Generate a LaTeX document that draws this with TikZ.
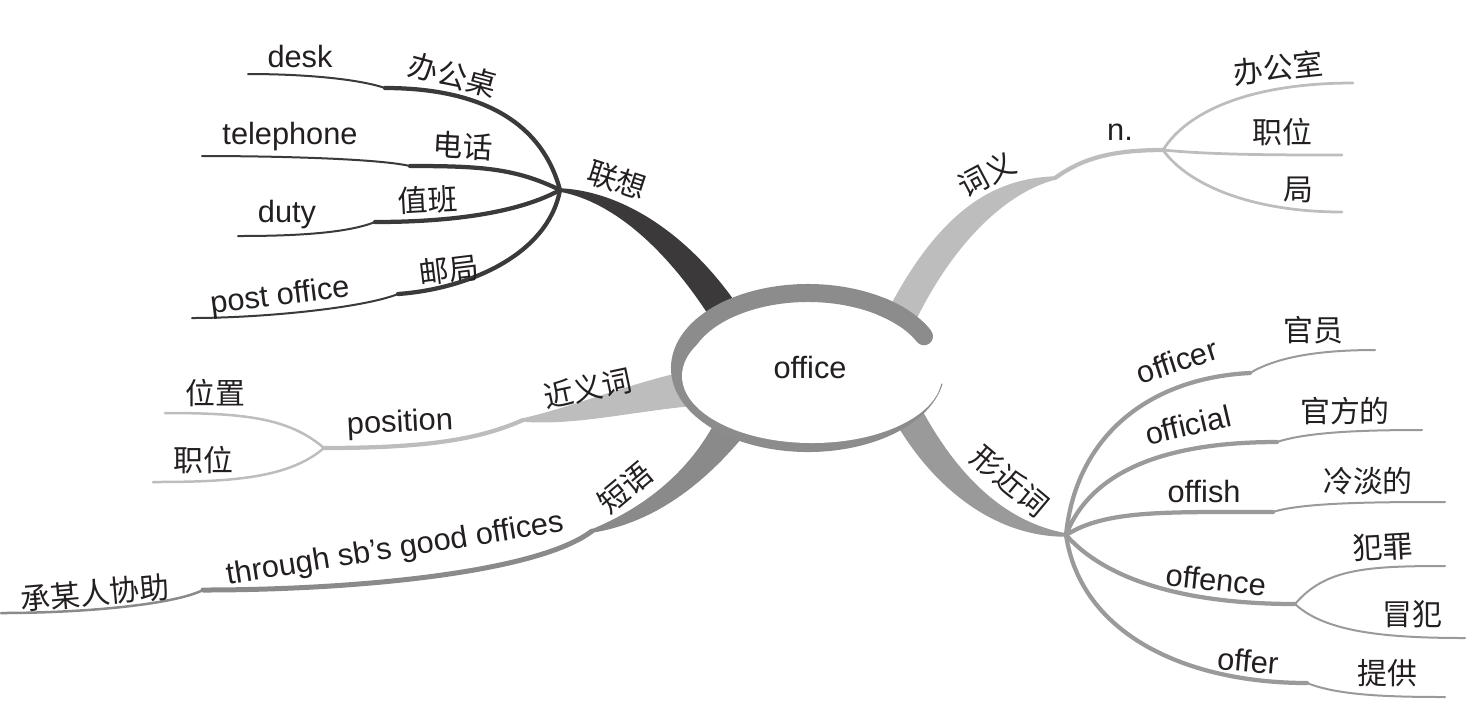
\documentclass[tikz,border=0pt]{standalone}
\usepackage{fontspec}
\setmainfont{Liberation Sans}
\newfontfamily\cjk{Noto Sans CJK SC}
\usetikzlibrary{calc}
\definecolor{mmink}{HTML}{231F20}
\definecolor{mmdark}{HTML}{3B393A}
\definecolor{mmlight}{HTML}{BDBDBD}
\definecolor{mmmid}{HTML}{8A8A8A}
\definecolor{mmsoft}{HTML}{9A9A9A}
\definecolor{mmring}{HTML}{8C8C8C}
\tikzset{
  mm text/.style={font=\fontsize{17.5}{20}\selectfont, text=mmink, inner sep=0pt},
  mm cn/.style={mm text, font=\cjk\fontsize{17}{20}\selectfont},
  mm trunk/.style={fill=#1, draw=#1, line width=0.7mm, line join=round},
  mm stem/.style={draw=#1, line width=0.85mm, line cap=round},
  mm leaf/.style={draw=#1, line width=0.4mm, line cap=round},
  mm ring/.style={draw=mmring, line width=3.6mm}
}
\begin{document}
\begin{tikzpicture}[x=0.2mm, y=-0.2mm]
  \useasboundingbox (0,0) rectangle (1466,709);

  \coordinate (lx) at (560,190);
  \coordinate (lx-a) at (745,320);
  \coordinate (lx-b) at (715,322);
  \coordinate (bgz-k) at (385,88);
  \coordinate (desk-e) at (248,74);
  \coordinate (dh-k) at (410,166);
  \coordinate (tel-e) at (202,156);
  \coordinate (zb-k) at (375,222);
  \coordinate (duty-e) at (238,236);
  \coordinate (yj-k) at (398,294);
  \coordinate (post-e) at (192,318);

  \coordinate (cy) at (1055,178);
  \coordinate (cy-a) at (890,310);
  \coordinate (cy-b) at (915,318);
  \coordinate (ny) at (1163,150);
  \coordinate (bgs-e) at (1353,83);
  \coordinate (zw-e) at (1342,155);
  \coordinate (ju-e) at (1342,212);

  \coordinate (jy) at (523,420);
  \coordinate (jy-a) at (690,372);
  \coordinate (jy-b) at (695,404);
  \coordinate (pos) at (324,448);
  \coordinate (wz-e) at (165,413);
  \coordinate (zw2-e) at (153,482);

  \coordinate (dy) at (592,531);
  \coordinate (dy-a) at (718,420);
  \coordinate (dy-b) at (748,428);
  \coordinate (cmr-k) at (203,590);
  \coordinate (cmr-e) at (1,613);

  \coordinate (xj) at (1066,535);
  \coordinate (xj-a) at (920,410);
  \coordinate (xj-b) at (895,418);
  \coordinate (ocr-k) at (1250,373);
  \coordinate (ocr-e) at (1375,350);
  \coordinate (ocl-k) at (1277,442);
  \coordinate (ocl-e) at (1422,430);
  \coordinate (ofh-k) at (1273,512);
  \coordinate (ofh-e) at (1445,502);
  \coordinate (ofc-f) at (1295,604);
  \coordinate (fz-e) at (1445,566);
  \coordinate (mf-e) at (1465,638);
  \coordinate (ofr-k) at (1307,683);
  \coordinate (ofr-e) at (1445,697);

  \filldraw[mm trunk=mmdark] (lx) .. controls (625,193) and (695,240) .. (lx-a)
    -- (lx-b) .. controls (670,250) and (615,200) .. (lx) -- cycle;
  \filldraw[mm trunk=mmlight] (cy) .. controls (1000,180) and (945,205) .. (cy-a)
    -- (cy-b) .. controls (960,228) and (1015,188) .. (cy) -- cycle;
  \filldraw[mm trunk=mmlight] (jy) .. controls (575,408) and (630,385) .. (jy-a)
    -- (jy-b) .. controls (630,410) and (575,424) .. (jy) -- cycle;
  \filldraw[mm trunk=mmmid] (dy-a) .. controls (695,465) and (655,505) .. (dy)
    .. controls (660,520) and (710,475) .. (dy-b) -- cycle;
  \filldraw[mm trunk=mmsoft] (xj-a) .. controls (950,465) and (995,522) .. (xj)
    .. controls (990,535) and (930,480) .. (xj-b) -- cycle;

  \draw[mm stem=mmdark] (lx) .. controls +(-20,-75) and +(85,0) .. (bgz-k);
  \draw[mm leaf=mmdark] (bgz-k) .. controls +(-30,-10) and +(50,0) .. (desk-e);
  \draw[mm stem=mmdark] (lx) .. controls +(-45,-22) and +(70,0) .. (dh-k);
  \draw[mm leaf=mmdark] (dh-k) .. controls +(-35,-8) and +(60,0) .. (tel-e);
  \draw[mm stem=mmdark] (lx) .. controls +(-40,22) and +(80,0) .. (zb-k);
  \draw[mm leaf=mmdark] (zb-k) .. controls +(-30,12) and +(50,0) .. (duty-e);
  \draw[mm stem=mmdark] (lx) .. controls +(-12,65) and +(70,-5) .. (yj-k);
  \draw[mm leaf=mmdark] (yj-k) .. controls +(-35,14) and +(70,0) .. (post-e);

  \draw[mm stem=mmlight] (cy) .. controls +(25,-18) and +(-55,0) .. (ny);
  \draw[mm leaf=mmlight, line width=0.55mm] (ny) .. controls +(25,-40) and +(-100,0) .. (bgs-e);
  \draw[mm leaf=mmlight, line width=0.55mm] (ny) .. controls +(50,5) and +(-60,0) .. (zw-e);
  \draw[mm leaf=mmlight, line width=0.55mm] (ny) .. controls +(25,35) and +(-90,0) .. (ju-e);

  \draw[mm stem=mmlight] (pos) .. controls +(100,0) and +(-45,20) .. (jy);
  \draw[mm leaf=mmlight, line width=0.5mm] (pos) .. controls +(-35,-30) and +(80,0) .. (wz-e);
  \draw[mm leaf=mmlight, line width=0.5mm] (pos) .. controls +(-35,30) and +(80,0) .. (zw2-e);

  \draw[mm stem=mmmid, line width=1mm] (dy) .. controls +(-55,42) and +(150,0) .. (cmr-k);
  \draw[mm leaf=mmmid, line width=0.5mm] (cmr-k) .. controls +(-30,15) and +(80,0) .. (cmr-e);

  \draw[mm stem=mmsoft] (xj) .. controls +(10,-100) and +(-100,5) .. (ocr-k);
  \draw[mm leaf=mmsoft] (ocr-k) .. controls +(25,-15) and +(-60,0) .. (ocr-e);
  \draw[mm stem=mmsoft] (xj) .. controls +(25,-65) and +(-110,0) .. (ocl-k);
  \draw[mm leaf=mmsoft] (ocl-k) .. controls +(30,-10) and +(-60,0) .. (ocl-e);
  \draw[mm stem=mmsoft] (xj) .. controls +(40,-25) and +(-110,0) .. (ofh-k);
  \draw[mm leaf=mmsoft] (ofh-k) .. controls +(30,-10) and +(-60,0) .. (ofh-e);
  \draw[mm stem=mmsoft] (xj) .. controls +(40,45) and +(-110,0) .. (ofc-f);
  \draw[mm leaf=mmsoft] (ofc-f) .. controls +(30,-35) and +(-80,0) .. (fz-e);
  \draw[mm leaf=mmsoft] (ofc-f) .. controls +(30,28) and +(-80,0) .. (mf-e);
  \draw[mm stem=mmsoft] (xj) .. controls +(15,100) and +(-120,0) .. (ofr-k);
  \draw[mm leaf=mmsoft] (ofr-k) .. controls +(30,12) and +(-60,0) .. (ofr-e);

  \fill[white] (808,368) ellipse[x radius=25.6mm, y radius=15mm];
  \draw[mm ring] (924,336.3) arc[start angle=25, end angle=350, x radius=25.6mm, y radius=15mm];
  \fill[white] (812,376) ellipse[x radius=26mm, y radius=13.4mm];
  \draw[mm ring, line cap=round] (924,336.3) arc[start angle=25, end angle=55, x radius=25.6mm, y radius=15mm];
  \node[mm text] (office) at (810,367) {office};

  \node[mm cn, rotate=-18] (lxt) at (617,180) {联想};
  \node[mm cn, rotate=-15] (bgz) at (453,75) {办公桌};
  \node[mm text] (desk) at (300,56) {desk};
  \node[mm cn, rotate=-3] (dh) at (463,146) {电话};
  \node[mm text] (tel) at (290,137) {telephone};
  \node[mm cn, rotate=3] (zb) at (428,200) {值班};
  \node[mm text] (duty) at (287,215) {duty};
  \node[mm cn, rotate=7] (yj) at (449,270) {邮局};
  \node[mm text, rotate=7] (post) at (280,297) {post office};

  \node[mm cn, rotate=28] (cyt) at (987,174) {词义};
  \node[mm text] (n) at (1120,132) {n.};
  \node[mm cn, rotate=6] (bgs) at (1278,68) {办公室};
  \node[mm cn] (zw) at (1282,132) {职位};
  \node[mm cn] (ju) at (1298,190) {局};

  \node[mm cn, rotate=12] (jyt) at (588,388) {近义词};
  \node[mm text, rotate=3] (position) at (400,424) {position};
  \node[mm cn] (wz) at (215,393) {位置};
  \node[mm cn] (zw2) at (203,460) {职位};

  \node[mm cn, rotate=40] (dyt) at (625,488) {短语};
  \node[mm text, rotate=9] (thr) at (395,550) {through sb's good offices};
  \node[mm cn, rotate=5] (cmr) at (95,593) {承某人协助};

  \node[mm cn, rotate=-40] (xjt) at (1010,481) {形近词};
  \node[mm text, rotate=18] (ocr) at (1177,361) {officer};
  \node[mm cn] (gy) at (1313,330) {官员};
  \node[mm text, rotate=13] (ocl) at (1188,425) {official};
  \node[mm cn] (gfd) at (1345,411) {官方的};
  \node[mm text] (ofh) at (1204,491) {offish};
  \node[mm cn] (ldd) at (1368,481) {冷淡的};
  \node[mm text, rotate=-6] (ofc) at (1216,580) {offence};
  \node[mm cn, rotate=3] (fz) at (1383,547) {犯罪};
  \node[mm cn] (mf) at (1412,614) {冒犯};
  \node[mm text, rotate=-5] (ofr) at (1248,661) {offer};
  \node[mm cn] (tg) at (1387,673) {提供};
\end{tikzpicture}
\end{document}
